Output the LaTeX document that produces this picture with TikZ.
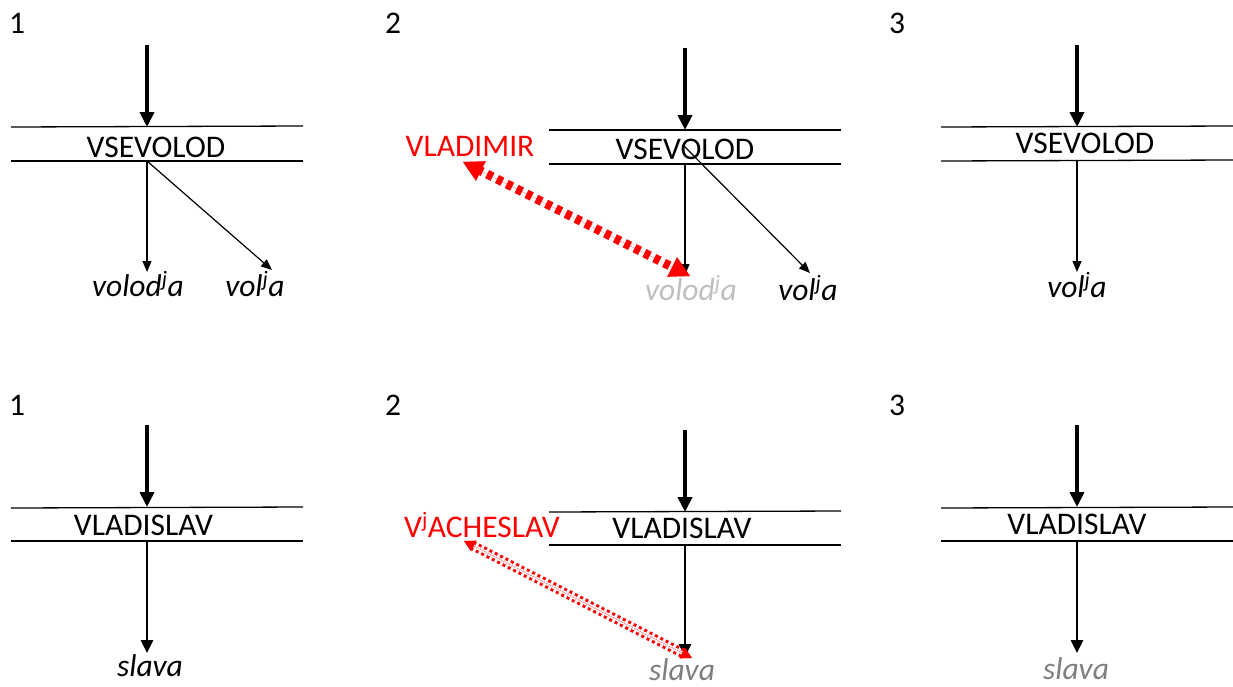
\documentclass[tikz,border=0pt]{standalone}
\usepackage{fontspec}
\setmainfont{Carlito}
\usetikzlibrary{arrows.meta}
\definecolor{lgray}{HTML}{BFBFBF}
\definecolor{mgray}{HTML}{7F7F7F}
\tikzset{
  lbl/.style={inner sep=0pt, anchor=base, font=\fontsize{31.5}{36}\selectfont},
  wrd/.style={inner sep=0pt, anchor=base, font=\fontsize{31.5}{36}\selectfont\itshape},
  num/.style={inner sep=0pt, anchor=base west, font=\fontsize{31.5}{36}\selectfont},
  rule/.style={line width=1.3pt},
  bigarrow/.style={line width=4pt, -{Triangle[width=14pt,length=15pt]}},
  thinarrow/.style={line width=1.2pt, -{Triangle[width=9pt,length=11pt]}},
  midarrow/.style={line width=2.8pt, -{Triangle[width=12pt,length=13pt]}},
  redthick/.style={red, line width=9pt, dash pattern=on 6pt off 5pt},
  redtip/.style={red, line width=0.1pt, {Triangle[width=22pt,length=20pt]}-{Triangle[width=22pt,length=20pt]}},
  reddouble/.style={red, line width=3pt, double=white, double distance=3.5pt, dash pattern=on 3pt off 3pt},
  redtipsmall/.style={red, line width=0.1pt, {Triangle[width=12pt,length=11pt]}-{Triangle[width=12pt,length=11pt]}}
}
\begin{document}
\begin{tikzpicture}[x=1pt,y=-1pt]
\useasboundingbox[fill=white] (0,0) rectangle (1233,686);

% ---------- numbers ----------
\node[num] (n1a) at (9,33) {1};
\node[num] (n2a) at (385,33) {2};
\node[num] (n3a) at (889,33) {3};
\node[num] (n1b) at (9,415) {1};
\node[num] (n2b) at (385,415) {2};
\node[num] (n3b) at (889,415) {3};

% ================= TOP ROW =================
% panel 1
\coordinate (t1s) at (147,45);
\coordinate (t1a) at (147,127);
\coordinate (t1b) at (147,161);
\draw[rule] (11,127) -- (303,126);
\draw[rule] (11,161) -- (303,161);
\node[lbl] (vs1) at (156,157) {VSEVOLOD};
\node[wrd] (w1a) at (138,296) {volod\textsuperscript{j}a};
\node[wrd] (w1b) at (255,296) {vol\textsuperscript{j}a};
\coordinate (w1at) at (147,272);
\coordinate (w1bt) at (272,270);
\draw[bigarrow] (t1s) -- (t1a);
\draw[thinarrow] (t1b) -- (w1at);
\draw[thinarrow] (t1b) -- (w1bt);

% panel 2
\coordinate (t2s) at (685,48);
\coordinate (t2a) at (685,130);
\coordinate (t2b) at (685,164);
\coordinate (t2c) at (683,145);
\draw[rule] (549,130) -- (841,130);
\draw[rule] (549,164) -- (841,164);
\node[lbl] (vs2) at (685,159) {VSEVOLOD};
\node[lbl, text=red] (vlm) at (470,156) {VLADIMIR};
\node[wrd, text=lgray] (w2a) at (691,300) {volod\textsuperscript{j}a};
\node[wrd] (w2b) at (808,300) {vol\textsuperscript{j}a};
\coordinate (w2at) at (685,275);
\coordinate (w2bt) at (810,273);
\draw[bigarrow] (t2s) -- (t2a);
\draw[thinarrow] (t2b) -- (w2at);
\draw[thinarrow] (t2c) -- (w2bt);
\coordinate (r1s) at (463,162);
\coordinate (r1e) at (690,276);
\draw[redthick, shorten <=16pt, shorten >=16pt] (r1s) -- (r1e);
\draw[redtip] (r1s) -- (r1e);

% panel 3
\coordinate (t3s) at (1077,45);
\coordinate (t3a) at (1077,127);
\coordinate (t3b) at (1077,161);
\draw[rule] (941,127) -- (1233,126);
\draw[rule] (941,161) -- (1233,160);
\node[lbl] (vs3) at (1085,153) {VSEVOLOD};
\node[wrd] (w3b) at (1077,297) {vol\textsuperscript{j}a};
\coordinate (w3bt) at (1077,272);
\draw[bigarrow] (t3s) -- (t3a);
\draw[thinarrow] (t3b) -- (w3bt);

% ================= BOTTOM ROW =================
% panel 1
\coordinate (b1s) at (147,425);
\coordinate (b1a) at (147,507);
\coordinate (b1b) at (147,541);
\draw[rule] (11,508) -- (303,507);
\draw[rule] (11,541) -- (303,541);
\node[lbl] (vl1) at (143.5,535) {VLADISLAV};
\node[wrd] (s1) at (150,676) {slava};
\coordinate (s1t) at (147,653);
\draw[bigarrow] (b1s) -- (b1a);
\draw[midarrow] (b1b) -- (s1t);

% panel 2
\coordinate (b2s) at (685,430);
\coordinate (b2a) at (685,512);
\coordinate (b2b) at (685,545);
\draw[rule] (549,512) -- (841,511);
\draw[rule] (549,545) -- (841,545);
\node[lbl] (vl2) at (682,538) {VLADISLAV};
\node[lbl, text=red] (vch) at (482,537) {V\textsuperscript{j}ACHESLAV};
\node[wrd, text=mgray] (s2) at (682,680) {slava};
\coordinate (s2t) at (685,657);
\draw[bigarrow] (b2s) -- (b2a);
\draw[midarrow] (b2b) -- (s2t);
\coordinate (r2s) at (464,541);
\coordinate (r2e) at (692,658);
\draw[reddouble, shorten <=9pt, shorten >=9pt] (r2s) -- (r2e);
\draw[redtipsmall] (r2s) -- (r2e);

% panel 3
\coordinate (b3s) at (1077,425);
\coordinate (b3a) at (1077,507);
\coordinate (b3b) at (1077,541);
\draw[rule] (941,508) -- (1233,507);
\draw[rule] (941,541) -- (1233,541);
\node[lbl] (vl3) at (1077,534) {VLADISLAV};
\node[wrd, text=mgray] (s3) at (1076,679) {slava};
\coordinate (s3t) at (1077,653);
\draw[bigarrow] (b3s) -- (b3a);
\draw[midarrow] (b3b) -- (s3t);
\end{tikzpicture}
\end{document}
